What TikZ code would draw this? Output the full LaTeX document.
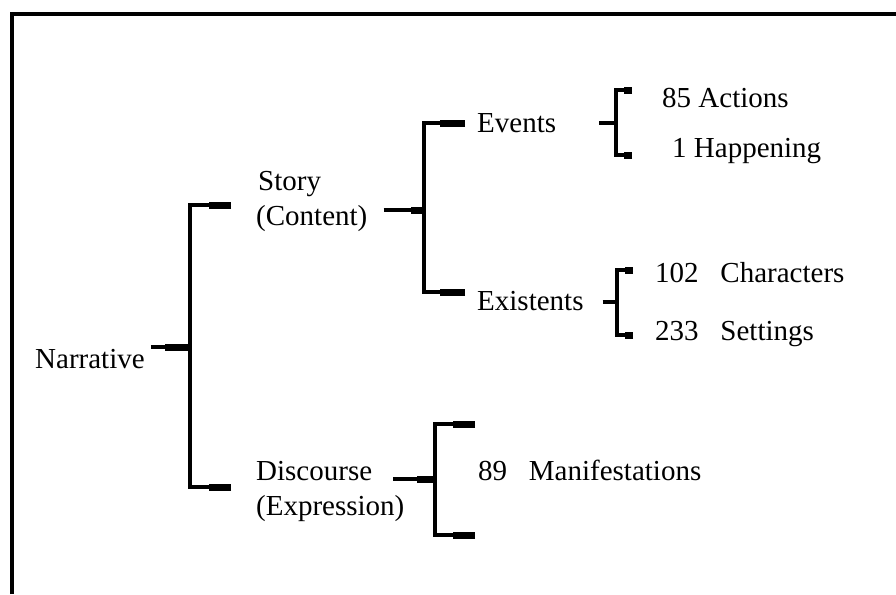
\documentclass[tikz,border=0pt]{standalone}
\usepackage{fontspec}
\setmainfont{Liberation Serif}
\tikzset{
  lbl/.style={anchor=base west, inner sep=0pt, font=\fontsize{29}{35}\selectfont},
  brk/.style={line width=4.5pt, line join=miter},
  tip/.style={line width=7pt},
}
\begin{document}
\begin{tikzpicture}[x=1pt,y=-1pt]
  \useasboundingbox (0,0) rectangle (896,594);
  % frame (top and left only)
  \draw[line width=4pt, line join=miter] (11.5,594) -- (11.5,14) -- (896,14);

  % the labels
  \node[lbl] (narr)    at (35,368)  {Narrative};
  \node[lbl] (story)   at (258,190) {Story};
  \node[lbl] (content) at (256,225) {(Content)};
  \node[lbl] (disc)    at (256,480) {Discourse};
  \node[lbl] (expr)    at (256,515) {(Expression)};
  \node[lbl] (events)  at (477,132) {Events};
  \node[lbl] (exist)   at (477,310) {Existents};
  \node[lbl] (act)     at (662,107) {85 Actions};
  \node[lbl] (hap)     at (672,157) {1 Happening};
  \node[lbl] (chars)   at (655,282) {102~~~Characters};
  \node[lbl] (sett)    at (655,340) {233~~~Settings};
  \node[lbl] (manif)   at (478,480) {89~~~Manifestations};

  % bracket corners
  \coordinate (nj) at (190,347); \coordinate (nt) at (231,205); \coordinate (nb) at (231,487);
  \coordinate (sj) at (424,210); \coordinate (st) at (465,123); \coordinate (sb) at (465,292);
  \coordinate (ej) at (616,123); \coordinate (et) at (632,90);  \coordinate (eb) at (632,155);
  \coordinate (xj) at (617,302); \coordinate (xt) at (633,270); \coordinate (xb) at (633,335);
  \coordinate (dj) at (435,479); \coordinate (dt) at (475,424); \coordinate (db) at (475,535);

  % the brackets
  \draw[brk] (nt) -| (nj) |- (nb);
  \draw[brk] (st) -| (sj) |- (sb);
  \draw[brk] (et) -| (ej) |- (eb);
  \draw[brk] (xt) -| (xj) |- (xb);
  \draw[brk] (dt) -| (dj) |- (db);

  % stubs from the labels
  \draw[brk] ([xshift=6pt]narr.east |- nj) -- (nj);
  \draw[brk] ([xshift=16pt]content.east |- sj) -- (sj);
  \draw[brk] ([xshift=43pt]events.east |- ej) -- (ej);
  \draw[brk] ([xshift=19pt]exist.east |- xj) -- (xj);
  \draw[brk] ([xshift=21pt]disc.east |- dj) -- (dj);

  % thicker ends
  \foreach \p/\l in {nt/22,nb/22,st/25,sb/25,et/8,eb/8,xt/8,xb/8,dt/22,db/22,nj/25,sj/13,dj/18}
    \draw[tip] (\p) -- ++(-\l,0);
\end{tikzpicture}
\end{document}
